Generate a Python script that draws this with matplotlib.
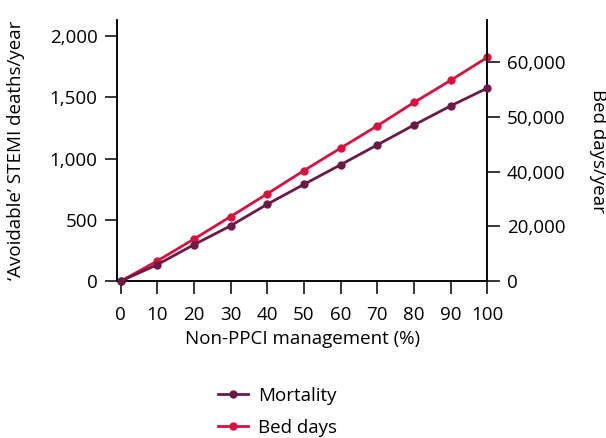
import matplotlib
matplotlib.use("Agg")
import matplotlib.pyplot as plt

plt.rcParams['font.family'] = ['Open Sans', 'DejaVu Sans']

# data
pct = [0, 10, 20, 30, 40, 50, 60, 70, 80, 90, 100]
mortality = [0, 135, 298, 452, 628, 790, 950, 1112, 1274, 1430, 1575]
bed_days = [0, 5550, 11550, 17700, 23950, 30300, 36450, 42550, 48950, 55000, 61300]

left_ticks = [0, 500, 1000, 1500, 2000]
left_labels = ['0', '500', '1,000', '1,500', '2,000']
right_ticks = [0, 15000, 30000, 45000, 60000]
right_labels = ['0', '20,000', '40,000', '50,000', '60,000']

c_mort = '#6b1a45'
c_bed = '#d8123f'
fs = 13.5

fig = plt.figure(figsize=(6.06, 4.38), dpi=100)
ax = fig.add_axes([0.193, 0.358, 0.611, 0.596])
ax2 = ax.twinx()

l1, = ax.plot(pct, mortality, color=c_mort, lw=2, marker='o', ms=5, clip_on=False, zorder=3, label='Mortality')
l2, = ax2.plot(pct, bed_days, color=c_bed, lw=2, marker='o', ms=5, clip_on=False, zorder=2, label='Bed days')
ax.set_zorder(ax2.get_zorder() + 1)
ax.patch.set_visible(False)

ax.set_xlim(-1, 100)
ax.set_ylim(0, 2130)
ax2.set_ylim(0, 71500)

ax.set_xticks(pct)
ax.set_yticks(left_ticks)
ax.set_yticklabels(left_labels)
ax2.set_yticks(right_ticks)
ax2.set_yticklabels(right_labels)

for a in (ax, ax2):
    a.spines['top'].set_visible(False)
    for s in a.spines.values():
        s.set_linewidth(1.1)
    a.tick_params(length=9, width=1.1, labelsize=fs, pad=5)
ax.tick_params(axis='x', pad=9)

ax.set_xlabel('Non-PPCI management (%)', fontsize=fs, labelpad=4)
ax.set_ylabel('\u2018Avoidable\u2019 STEMI deaths/year', fontsize=fs, labelpad=18)
ax2.set_ylabel('Bed days/year', fontsize=fs, rotation=-90, labelpad=30)

fig.legend(handles=[l1, l2], loc='center', bbox_to_anchor=(0.458, 0.06),
           frameon=False, fontsize=fs, handlelength=1.6, handletextpad=0.5,
           labelspacing=0.75)

plt.savefig('out.png', dpi=100)
